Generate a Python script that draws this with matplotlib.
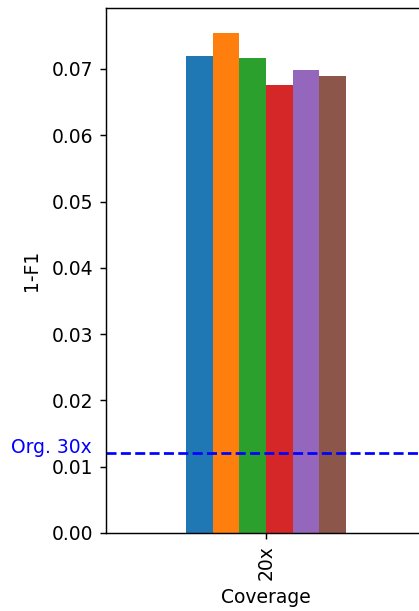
import matplotlib.pyplot as plt
import matplotlib.transforms as mtransforms
import numpy as np

# 1-F1 per method at 20x coverage, with the original 30x result as reference
coverages = ["20x"]
methods = ["m1", "m2", "m3", "m4", "m5", "m6"]
scores = [0.0719, 0.0755, 0.0716, 0.0676, 0.0698, 0.0690]
org_30x = 0.012

plt.rcParams["font.size"] = 10.4
colors = plt.rcParams["axes.prop_cycle"].by_key()["color"]

fig = plt.figure(figsize=(419 / 130, 611 / 130), dpi=130)
ax = fig.add_axes([0.253, 0.1277, 0.764, 0.860])

x = np.arange(len(coverages))
width = 1 / len(methods)
for i, (name, val) in enumerate(zip(methods, scores)):
    offset = (i - (len(methods) - 1) / 2) * width
    ax.bar(x + offset, [val], width, color=colors[i], label=name)

ax.axhline(org_30x, color="blue", linestyle="--", linewidth=1.5)
trans = mtransforms.blended_transform_factory(ax.transAxes, ax.transData)
ax.text(-0.045, org_30x, "Org. 30x", color="blue", ha="right", va="baseline",
        transform=trans)

ax.set_xlim(-1, 1)
ax.set_xticks(x)
ax.set_xticklabels(coverages, rotation=90)
ax.set_xlabel("Coverage")
ax.set_ylabel("1-F1", labelpad=6)

fig.savefig("out.png", dpi=130)
